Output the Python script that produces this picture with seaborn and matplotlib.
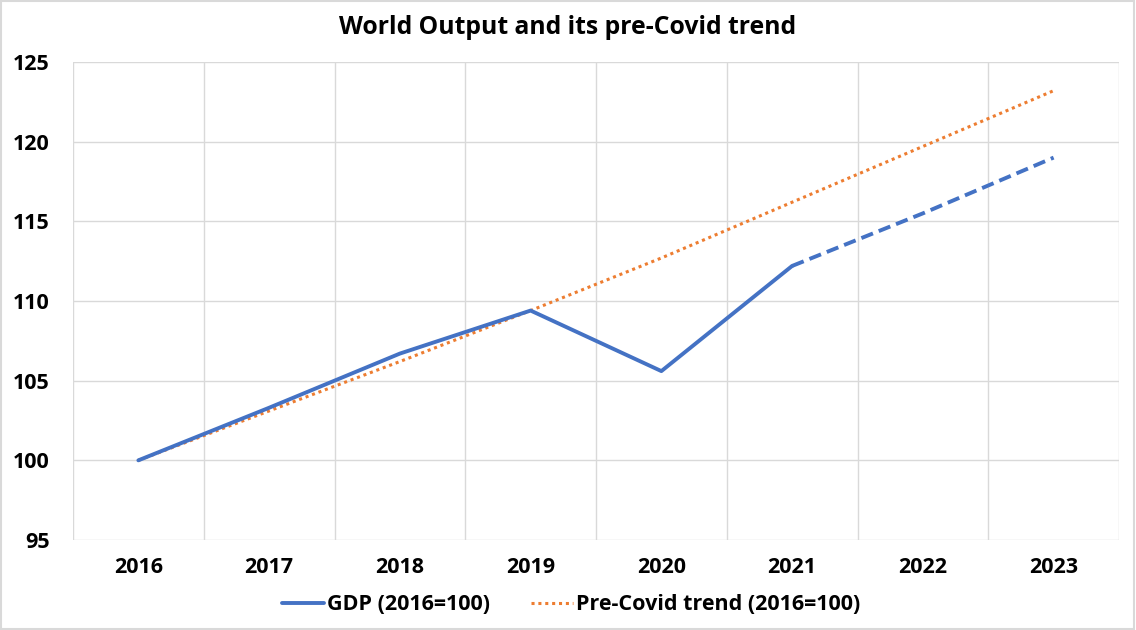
import matplotlib
matplotlib.use("Agg")
import matplotlib.pyplot as plt
import seaborn as sns
import pandas as pd
from matplotlib.lines import Line2D
from matplotlib.patches import Rectangle

# data
years = ["2016", "2017", "2018", "2019", "2020", "2021", "2022", "2023"]
gdp_actual = [100.0, 103.3, 106.7, 109.4, 105.6, 112.2]          # 2016-2021
gdp_forecast = [112.2, 115.5, 119.0]                              # 2021-2023
trend = [100.0, 103.1, 106.2, 109.4, 112.7, 116.2, 119.7, 123.2]

blue = "#4472C4"
orange = "#ED7D31"
grid_col = "#D9D9D9"

sns.set_theme(style="white")
plt.rcParams["font.family"] = ["Open Sans", "DejaVu Sans"]
plt.rcParams["font.weight"] = "bold"
plt.rcParams["text.color"] = "black"
plt.rcParams["xtick.color"] = "black"
plt.rcParams["ytick.color"] = "black"

df_act = pd.DataFrame({"x": list(range(len(gdp_actual))), "y": gdp_actual})
df_fc = pd.DataFrame({"x": list(range(5, 5 + len(gdp_forecast))), "y": gdp_forecast})
df_tr = pd.DataFrame({"x": list(range(len(trend))), "y": trend})

fig = plt.figure(figsize=(11.36, 6.30), dpi=100)
ax = fig.add_axes([73 / 1136, 1 - 540 / 630, (1119 - 73) / 1136, (540 - 62) / 630])

dot_style = (0, (1.0, 1.25))
sns.lineplot(data=df_tr, x="x", y="y", ax=ax, color=orange, lw=2.2,
             linestyle=dot_style, dash_capstyle="butt", zorder=3)
sns.lineplot(data=df_act, x="x", y="y", ax=ax, color=blue, lw=2.8, zorder=4)
sns.lineplot(data=df_fc, x="x", y="y", ax=ax, color=blue, lw=2.8,
             linestyle=(0, (3.2, 1.6)), zorder=4)

ax.set_xlim(-0.5, len(years) - 0.5)
ax.set_ylim(95, 125)
ax.set_yticks(range(95, 126, 5))
ax.set_xticks(range(len(years)))
ax.set_xticklabels(years)
ax.set_xlabel("")
ax.set_ylabel("")

# category boundary gridlines like Excel
for b in range(len(years) + 1):
    ax.axvline(b - 0.5, color=grid_col, lw=1, zorder=0)
for v in range(95, 126, 5):
    ax.axhline(v, color=grid_col, lw=1, zorder=0)
for s in ax.spines.values():
    s.set_visible(False)

ax.tick_params(axis="both", length=0, labelsize=15.5, labelcolor="black")
ax.tick_params(axis="x", pad=12)
ax.tick_params(axis="y", pad=17)
for lab in ax.get_xticklabels() + ax.get_yticklabels():
    lab.set_fontweight("bold")

fig.text(0.5, 1 - 27 / 630, "World Output and its pre-Covid trend",
         ha="center", va="center", fontsize=17.8, fontweight="bold", color="black")

handles = [Line2D([], [], color=blue, lw=2.8),
           Line2D([], [], color=orange, lw=2.2, linestyle=dot_style, dash_capstyle="butt")]
leg = fig.legend(handles, ["GDP (2016=100)", "Pre-Covid trend (2016=100)"],
                 loc="center", bbox_to_anchor=(0.5026, 1 - 605 / 630), ncol=2,
                 frameon=False, handlelength=1.95, columnspacing=1.9,
                 handletextpad=0.15, prop={"weight": "bold", "size": 15.5})
for t in leg.get_texts():
    t.set_color("black")

# outer chart border
fig.patches.append(Rectangle((0.001, 0.002), 0.997, 0.996, transform=fig.transFigure,
                             fill=False, edgecolor=grid_col, lw=1.5))

fig.savefig("out.png", dpi=100)
